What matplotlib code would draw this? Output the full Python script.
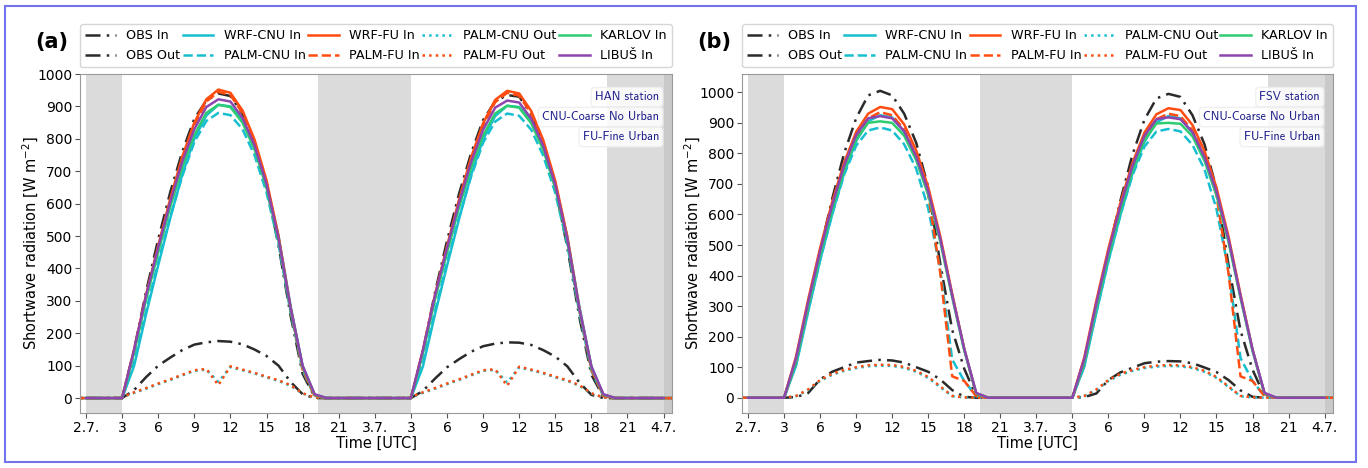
import numpy as np
import matplotlib
matplotlib.use("Agg")
import matplotlib.pyplot as plt
from matplotlib.patches import Rectangle

# ---------------- data ----------------
hours = np.arange(-1, 50)            # time in hours from 2.7. 00 UTC
tick_pos = np.arange(0, 49, 3)
tick_labels = ['2.7.', '3', '6', '9', '12', '15', '18', '21', '3.7.',
               '3', '6', '9', '12', '15', '18', '21', '4.7.']
nights = [(0, 3), (19.3, 27.0), (43.3, 48.7), (48.0, 48.7)]

# values for daytime hours 3..20 of each day
# ---- panel (a) HAN station ----
a_obs_in_d1 = [0, 150, 330, 490, 635, 760, 862, 918, 940, 932, 878, 785, 655, 470, 255, 75, 3, 0]
a_obs_in_d2 = [0, 145, 325, 485, 630, 755, 858, 915, 935, 930, 875, 780, 650, 465, 250, 72, 3, 0]
a_obs_out_d1 = [0, 25, 65, 100, 125, 148, 165, 172, 176, 174, 166, 150, 130, 100, 50, 12, 0, 0]
a_obs_out_d2 = [0, 22, 60, 95, 120, 143, 160, 168, 172, 171, 164, 148, 128, 98, 48, 10, 0, 0]
a_wrf_cnu_d1 = [0, 100, 260, 410, 555, 690, 800, 872, 905, 900, 858, 778, 662, 500, 285, 100, 10, 0]
a_wrf_cnu_d2 = [0, 98, 258, 408, 552, 688, 798, 870, 902, 898, 855, 775, 660, 498, 283, 98, 10, 0]
a_palm_cnu_in_d1 = [0, 110, 270, 420, 560, 685, 790, 855, 880, 873, 830, 750, 635, 475, 265, 85, 6, 0]
a_palm_cnu_in_d2 = [0, 108, 268, 418, 558, 683, 788, 853, 878, 871, 828, 748, 633, 473, 263, 84, 6, 0]
a_wrf_fu_d1 = [0, 150, 320, 470, 615, 745, 850, 922, 952, 942, 888, 798, 672, 500, 280, 95, 8, 0]
a_wrf_fu_d2 = [0, 148, 318, 468, 612, 742, 848, 920, 948, 940, 886, 796, 670, 498, 278, 94, 8, 0]
a_palm_fu_in_d1 = [0, 145, 315, 465, 610, 738, 842, 915, 945, 935, 880, 790, 665, 492, 272, 88, 6, 0]
a_palm_fu_in_d2 = [0, 143, 313, 463, 608, 736, 840, 913, 942, 933, 878, 788, 663, 490, 270, 87, 6, 0]
a_palm_cnu_out_d1 = [3, 16, 29, 43, 56, 70, 84, 88, 50, 96, 86, 76, 64, 53, 38, 14, 2, 0]
a_palm_cnu_out_d2 = [3, 16, 29, 43, 56, 70, 84, 87, 48, 95, 86, 76, 64, 53, 38, 14, 2, 0]
a_palm_fu_out_d1 = [3, 18, 31, 45, 58, 72, 86, 90, 40, 98, 88, 78, 66, 55, 40, 15, 2, 0]
a_palm_fu_out_d2 = [3, 18, 31, 45, 58, 72, 86, 89, 38, 97, 88, 78, 66, 55, 40, 15, 2, 0]
a_karlov_d1 = [0, 140, 305, 450, 590, 712, 812, 880, 905, 898, 850, 768, 650, 485, 272, 96, 10, 0]
a_karlov_d2 = [0, 138, 303, 448, 588, 710, 810, 878, 902, 896, 848, 766, 648, 483, 270, 95, 10, 0]
a_libus_d1 = [0, 150, 318, 465, 605, 730, 830, 898, 922, 915, 865, 780, 660, 492, 278, 100, 12, 0]
a_libus_d2 = [0, 148, 316, 463, 603, 728, 828, 896, 918, 912, 862, 778, 658, 490, 276, 98, 12, 0]

# ---- panel (b) FSV station ----
b_obs_in_d1 = [0, 110, 300, 480, 650, 800, 915, 990, 1005, 990, 930, 835, 690, 440, 222, 95, 5, 0]
b_obs_in_d2 = [0, 105, 295, 475, 645, 795, 910, 980, 995, 985, 925, 830, 685, 435, 220, 92, 5, 0]
b_obs_out_d1 = [0, 2, 15, 60, 85, 100, 115, 120, 124, 122, 115, 100, 85, 60, 25, 3, 0, 0]
b_obs_out_d2 = [0, 2, 14, 58, 83, 98, 113, 118, 120, 119, 113, 99, 84, 58, 24, 3, 0, 0]
b_wrf_cnu_d1 = [0, 105, 280, 450, 600, 735, 840, 905, 925, 918, 870, 790, 675, 520, 335, 160, 12, 0]
b_wrf_cnu_d2 = [0, 103, 278, 448, 598, 733, 838, 902, 922, 915, 868, 788, 673, 518, 333, 158, 12, 0]
b_palm_cnu_in_d1 = [0, 110, 285, 450, 600, 730, 825, 875, 885, 875, 830, 750, 620, 420, 125, 55, 5, 0]
b_palm_cnu_in_d2 = [0, 108, 283, 448, 598, 728, 822, 872, 880, 872, 828, 748, 618, 418, 130, 55, 5, 0]
b_wrf_fu_d1 = [0, 135, 320, 490, 640, 770, 870, 930, 952, 945, 895, 810, 690, 530, 340, 160, 12, 0]
b_wrf_fu_d2 = [0, 133, 318, 488, 638, 768, 868, 928, 948, 942, 893, 808, 688, 528, 338, 158, 12, 0]
b_palm_fu_in_d1 = [0, 120, 300, 470, 625, 755, 855, 915, 935, 925, 878, 790, 665, 410, 70, 55, 5, 0]
b_palm_fu_in_d2 = [0, 118, 298, 468, 623, 753, 853, 912, 930, 922, 876, 788, 663, 408, 70, 55, 5, 0]
b_palm_cnu_out_d1 = [0, 5, 25, 55, 75, 88, 97, 103, 105, 104, 98, 85, 65, 35, 5, 1, 0, 0]
b_palm_cnu_out_d2 = [0, 5, 25, 55, 75, 88, 97, 102, 104, 103, 97, 85, 65, 35, 5, 1, 0, 0]
b_palm_fu_out_d1 = [0, 6, 27, 58, 78, 91, 100, 106, 108, 107, 101, 88, 68, 37, 6, 1, 0, 0]
b_palm_fu_out_d2 = [0, 6, 27, 58, 78, 91, 100, 105, 107, 106, 100, 88, 68, 37, 6, 1, 0, 0]
b_karlov_d1 = [0, 120, 300, 465, 615, 745, 845, 900, 905, 900, 858, 778, 665, 512, 328, 155, 14, 0]
b_karlov_d2 = [0, 118, 298, 463, 613, 743, 843, 898, 900, 897, 856, 776, 663, 510, 326, 153, 14, 0]
b_libus_d1 = [0, 130, 312, 480, 630, 760, 860, 915, 922, 915, 873, 790, 677, 522, 335, 160, 16, 0]
b_libus_d2 = [0, 128, 310, 478, 628, 758, 858, 912, 918, 912, 870, 788, 675, 520, 333, 158, 16, 0]

stations = ['HAN station', 'FSV station']
panel_tags = ['(a)', '(b)']
ylims = [(-46, 1000), (-50, 1060)]


def full(d1, d2):
    z4 = [0] * 4      # hours -1..2
    z6 = [0] * 6      # hours 21..26
    z5 = [0] * 5      # hours 45..49
    return np.array(z4 + list(d1) + z6 + list(d2) + z5, dtype=float)


panels = [
    dict(obs_in=full(a_obs_in_d1, a_obs_in_d2), obs_out=full(a_obs_out_d1, a_obs_out_d2),
         wrf_cnu=full(a_wrf_cnu_d1, a_wrf_cnu_d2), palm_cnu_in=full(a_palm_cnu_in_d1, a_palm_cnu_in_d2),
         wrf_fu=full(a_wrf_fu_d1, a_wrf_fu_d2), palm_fu_in=full(a_palm_fu_in_d1, a_palm_fu_in_d2),
         palm_cnu_out=full(a_palm_cnu_out_d1, a_palm_cnu_out_d2),
         palm_fu_out=full(a_palm_fu_out_d1, a_palm_fu_out_d2),
         karlov=full(a_karlov_d1, a_karlov_d2), libus=full(a_libus_d1, a_libus_d2)),
    dict(obs_in=full(b_obs_in_d1, b_obs_in_d2), obs_out=full(b_obs_out_d1, b_obs_out_d2),
         wrf_cnu=full(b_wrf_cnu_d1, b_wrf_cnu_d2), palm_cnu_in=full(b_palm_cnu_in_d1, b_palm_cnu_in_d2),
         wrf_fu=full(b_wrf_fu_d1, b_wrf_fu_d2), palm_fu_in=full(b_palm_fu_in_d1, b_palm_fu_in_d2),
         palm_cnu_out=full(b_palm_cnu_out_d1, b_palm_cnu_out_d2),
         palm_fu_out=full(b_palm_fu_out_d1, b_palm_fu_out_d2),
         karlov=full(b_karlov_d1, b_karlov_d2), libus=full(b_libus_d1, b_libus_d2)),
]

# ---------------- style ----------------
C_OBS = '#2a2a2a'
C_CNU = '#17becf'
C_FU = '#ff4d12'
C_KAR = '#2ecc71'
C_LIB = '#8e44ad'
LW = 1.8

series_style = [
    ('obs_in', 'OBS In', C_OBS, (0, (6, 2.5, 1, 2.5)), True),
    ('obs_out', 'OBS Out', C_OBS, (0, (6, 2.5, 1, 2.5)), True),
    ('wrf_cnu', 'WRF-CNU In', C_CNU, '-', False),
    ('palm_cnu_in', 'PALM-CNU In', C_CNU, '--', False),
    ('wrf_fu', 'WRF-FU In', C_FU, '-', False),
    ('palm_fu_in', 'PALM-FU In', C_FU, '--', False),
    ('palm_cnu_out', 'PALM-CNU Out', C_CNU, ':', False),
    ('palm_fu_out', 'PALM-FU Out', C_FU, ':', False),
    ('karlov', 'KARLOV In', C_KAR, '-', True),
    ('libus', 'LIBUŠ In', C_LIB, '-', True),
]

plt.rcParams['font.family'] = ['DejaVu Sans']

W, H = 1368, 468
fig = plt.figure(figsize=(W / 100, H / 100), dpi=100)

axes_px = [(80, 592), (742, 591)]
for i, (left, width) in enumerate(axes_px):
    ax = fig.add_axes([left / W, 55 / H, width / W, 339 / H])
    data = panels[i]
    for (x0, x1) in nights:
        ax.axvspan(x0, x1, color='#b8b8b8', alpha=0.5, lw=0, zorder=0)
    handles = []
    for key, label, col, ls, is_obs in series_style:
        x = hours[1:-1] if is_obs else hours
        y = data[key][1:-1] if is_obs else data[key]
        h, = ax.plot(x, y, color=col, ls=ls, lw=LW, label=label, zorder=2)
        handles.append(h)
    ax.set_xlim(-0.5, 48.7)
    ax.set_ylim(*ylims[i])
    ax.set_xticks(tick_pos)
    ax.set_xticklabels(tick_labels)
    ax.set_yticks(np.arange(0, 1001, 100))
    ax.tick_params(labelsize=10, color='#555555', length=3.5, pad=2)
    for sp in ax.spines.values():
        sp.set_color('#999999')
    ax.set_xlabel('Time [UTC]', fontsize=10.5, labelpad=1)
    ax.set_ylabel(r'Shortwave radiation [W m$^{-2}$]', fontsize=10.5)
    ax.yaxis.set_label_coords(-0.066, 0.5)
    ax.legend(handles=handles, loc='lower left', bbox_to_anchor=(0, 1.02, 1, 0.13),
              mode='expand', ncol=5, fontsize=9.2, borderaxespad=0, handlelength=2.4,
              labelspacing=0.55, framealpha=0.8)
    bx = dict(boxstyle='round,pad=0.3', fc='white', ec='#eeeeee', alpha=0.85)
    for j, txt in enumerate([stations[i], 'CNU-Coarse No Urban', 'FU-Fine Urban']):
        ax.text(0.978, 0.932 - j * 0.059, txt, transform=ax.transAxes, ha='right', va='center',
                fontsize=8.8, color='#1c1c8a', family='cmss10', bbox=bx, zorder=5)
    fig.text((left - 28) / W, 1 - 42 / H, panel_tags[i], fontsize=15, weight='bold',
             ha='center', va='center')

fig.patches.append(Rectangle((5 / W, 6 / H), 1351 / W, 456 / H, transform=fig.transFigure,
                             fill=False, ec='#7373f0', lw=1.5))

fig.savefig('out.png', dpi=100)
